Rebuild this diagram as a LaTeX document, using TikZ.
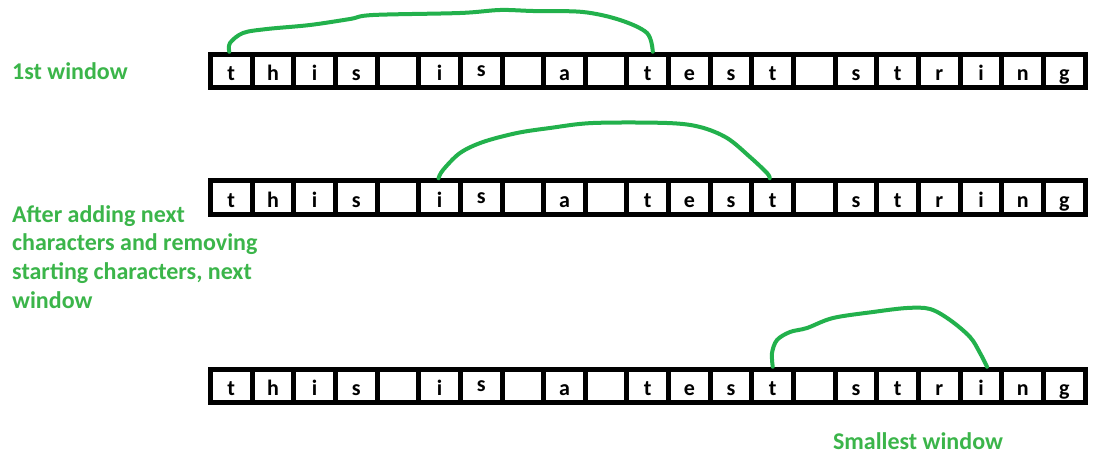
\documentclass[tikz,border=0pt]{standalone}
\usepackage{fontspec}
\setmainfont{Carlito}
\definecolor{arcgreen}{HTML}{22B14C}
\definecolor{labgreen}{HTML}{3BB54A}
\begin{document}
\begin{tikzpicture}[x=1pt,y=-1pt,
  cell/.style={draw=black, line width=5pt, fill=white, minimum width=41.65pt,
    minimum height=33.5pt, inner sep=0pt, text height=19pt, text depth=0pt,
    font=\bfseries\fontsize{22}{22}\selectfont},
  arc/.style={draw=arcgreen, line width=4pt, line cap=round, line join=round},
  lab/.style={text=labgreen, font=\bfseries\fontsize{24}{28.7}\selectfont, inner sep=0pt}]
\useasboundingbox[fill=white] (0,0) rectangle (1113,455);
\foreach \r/\y in {1/71,2/197.5,3/386}{
  \foreach \l [count=\i from 0] in {{t},{h},{i},{s},{},{i},{\raisebox{4pt}{s}},{},{a},{},{t},{e},{s},{t},{},{s},{t},{r},{i},{n},{g}}{
    \node[cell] (r\r c\i) at ({231.3+41.65*\i},\y) {\l};
  }
}
% arcs
\draw[arc] plot[smooth, tension=0.55] coordinates {([xshift=-2pt]r1c0.north) (230,43) (243,33) (267,29) (310,25) (350,19) (373,15) (460,13) (500,10) (533,11) (583,12) (620,20) (647,33) ([xshift=5pt]r1c10.north)};
\draw[arc] plot[smooth, tension=0.55] coordinates {([xshift=-1pt]r2c5.north) (443,170) (460,153) (483,142) (517,133) (550,128) (593,123) (667,123) (700,127) (727,138) (750,157) (767,173) ([xshift=-3pt]r2c13.north)};
\draw[arc] plot[smooth, tension=0.55] coordinates {(r3c13.north) (772,353) (777,340) (790,332) (807,328) (833,318) (873,312) (907,308) (930,309) (950,320) (970,337) (980,353) ([xshift=6pt]r3c18.north)};
% labels
\node[lab, anchor=base west] (l1) at (12,79) {1st window};
\node[lab, anchor=north west, align=left] (l2) at (12,205) {After adding next\\characters and removing\\starting characters, next\\window};
\node[lab, anchor=base] (l3) at (918,449) {Smallest window};
\end{tikzpicture}
\end{document}
